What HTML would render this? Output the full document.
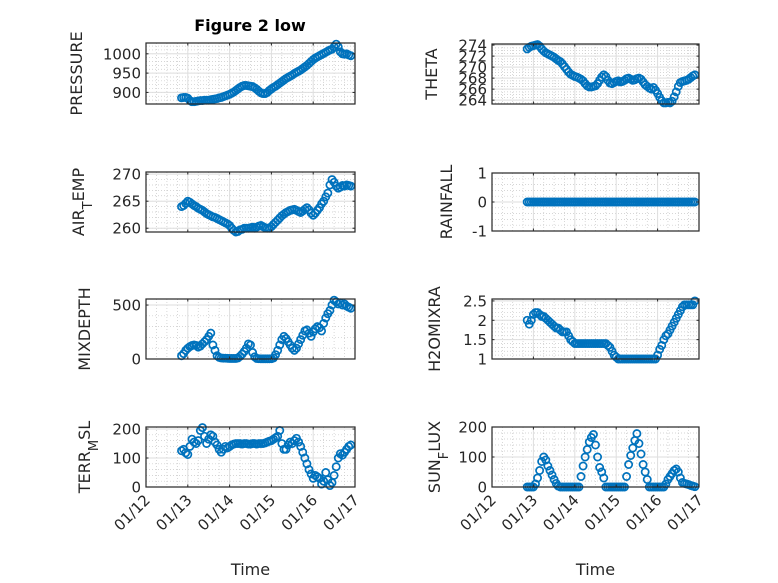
<!DOCTYPE html>
<html><head><meta charset="utf-8"><style>
html,body{margin:0;padding:0;background:#fff;}
svg{display:block;font-family:"DejaVu Sans","Liberation Sans",sans-serif;}
</style></head><body>
<svg id="fig" width="778" height="583" viewBox="0 0 778 583" xmlns="http://www.w3.org/2000/svg">
<rect width="778" height="583" fill="#fff"/>
<text x="250" y="31" text-anchor="middle" font-size="16" font-weight="bold" fill="#000">Figure 2 low</text>
</svg>
<script>
const times = [0.85,0.90,0.95,1.00,1.05,1.10,1.15,1.20,1.25,1.30,1.35,1.40,1.45,1.50,1.55,1.60,1.65,1.70,1.75,1.80,1.85,1.90,1.95,2.00,2.05,2.10,2.15,2.20,2.25,2.30,2.35,2.40,2.45,2.50,2.55,2.60,2.65,2.70,2.75,2.80,2.85,2.90,2.95,3.00,3.05,3.10,3.15,3.20,3.25,3.30,3.35,3.40,3.45,3.50,3.55,3.60,3.65,3.70,3.75,3.80,3.85,3.90,3.95,4.00,4.05,4.10,4.15,4.20,4.25,4.30,4.35,4.40,4.45,4.50,4.55,4.60,4.65,4.70,4.75,4.80,4.85,4.90];
const xTickLabels = ["01/12","01/13","01/14","01/15","01/16","01/17"];
const pressure = [886,887,887,885,879,876,876,877,878,879,879,880,880,880,881,882,883,884,886,887,889,891,893,895,898,901,905,909,913,916,918,918,917,916,915,912,908,903,899,897,897,900,905,909,913,916,920,924,928,932,936,939,942,945,949,952,955,958,962,966,970,975,980,985,989,992,995,998,1001,1004,1007,1010,1012,1018,1025,1018,1005,1000,999,1000,997,995];
const theta = [273.3,273.6,273.8,273.9,274,274.1,273.8,273.3,272.9,272.6,272.4,272.2,272,271.8,271.5,271.2,271,270.6,270.1,269.6,269.1,268.7,268.5,268.3,268.2,268,267.8,267.5,267,266.6,266.4,266.4,266.5,266.6,267,267.6,268.2,268.6,268.3,267.6,267.1,267,267.2,267.4,267.5,267.3,267.4,267.6,267.9,268,267.8,267.6,267.7,267.9,268,267.8,267.3,266.8,266.5,266.2,266,266.3,265.8,265.2,264.5,263.9,263.5,263.5,263.6,263.5,263.8,264.6,265.5,266.5,267.2,267.4,267.5,267.6,267.8,268.1,268.4,268.6];
const airTemp = [264,264.2,264.6,265,264.8,264.5,264.2,264,263.7,263.5,263.3,263,262.7,262.5,262.3,262.1,262,261.8,261.6,261.4,261.2,261,260.8,260.5,260,259.6,259.3,259.4,259.7,259.8,260,260,260,260.1,260.2,260,260.2,260.4,260.5,260.3,260.1,260,260,260.3,260.7,261.1,261.5,261.9,262.3,262.6,262.9,263.1,263.3,263.4,263.5,263.3,263.1,262.9,263.2,263.5,263.8,263.4,262.8,262.4,262.8,263.3,263.8,264.5,265,265.8,266.5,268,269,268.5,267.8,267.4,267.6,267.9,267.8,268,267.9,267.8];
const rainfall = [0,0,0,0,0,0,0,0,0,0,0,0,0,0,0,0,0,0,0,0,0,0,0,0,0,0,0,0,0,0,0,0,0,0,0,0,0,0,0,0,0,0,0,0,0,0,0,0,0,0,0,0,0,0,0,0,0,0,0,0,0,0,0,0,0,0,0,0,0,0,0,0,0,0,0,0,0,0,0,0,0,0];
const mixDepth = [30,50,80,100,115,125,130,125,110,120,140,160,180,210,240,130,80,30,15,10,8,8,6,5,5,5,5,10,25,45,70,100,140,130,60,20,5,3,2,2,2,2,2,3,10,40,80,130,180,210,190,160,130,100,80,100,140,180,220,260,270,240,210,250,280,300,290,260,330,380,420,450,500,545,530,510,520,500,510,490,480,470];
const h2oMix = [2.0,1.9,2.0,2.15,2.2,2.2,2.15,2.1,2.1,2.05,2.0,1.95,1.9,1.85,1.8,1.8,1.75,1.7,1.7,1.7,1.6,1.5,1.45,1.4,1.4,1.4,1.4,1.4,1.4,1.4,1.4,1.4,1.4,1.4,1.4,1.4,1.4,1.4,1.4,1.35,1.3,1.2,1.1,1.05,1,1,1,1,1,1,1,1,1,1,1,1,1,1,1,1,1,1,1,1.1,1.25,1.35,1.5,1.6,1.65,1.75,1.85,1.95,2.05,2.15,2.25,2.35,2.4,2.4,2.4,2.4,2.4,2.5];
const terrMsl = [125,130,118,112,140,165,155,150,160,195,205,175,150,165,180,175,155,145,130,120,130,140,135,140,145,148,150,150,150,148,150,150,148,148,150,150,148,150,150,150,152,155,158,160,165,170,175,195,150,130,130,145,155,150,160,168,155,140,120,100,80,60,45,30,40,35,30,10,20,50,25,5,15,40,70,100,115,110,120,130,140,145];
const sunFlux = [0,0,0,0,10,30,55,85,100,90,70,55,40,25,12,3,0,0,0,0,0,0,0,0,0,0,35,70,100,125,150,165,175,140,100,65,50,30,0,0,0,0,0,0,0,0,0,0,35,75,105,130,155,178,145,110,75,50,25,0,0,0,0,0,0,0,0,10,25,35,45,55,60,50,30,15,12,10,8,5,3,1];

const pressureTicks = [900,950,1000];
const thetaTicks = [264,266,268,270,272,274];
const airTicks = [260,265,270];
const rainTicks = [-1,0,1];
const mixTicks = [0,500];
const h2oTicks = [1,1.5,2,2.5];
const terrTicks = [0,100,200];
const sunTicks = [0,100,200];

const NS = "http://www.w3.org/2000/svg";
const svg = document.getElementById('fig');
function mk(tag, attrs, parent){const e=document.createElementNS(NS,tag);for(const k in attrs)e.setAttribute(k,attrs[k]);(parent||svg).appendChild(e);return e;}

function panel(cfg){
  const g = mk('g',{});
  
  
  const L=cfg.x, T=cfg.y, W=cfg.w, H=cfg.h;
  const sx = t => L + t/5*W;
  const sy = v => T + H - (v-cfg.ymin)/(cfg.ymax-cfg.ymin)*H;
  for(let d=0; d<=5.0001; d+=0.25){ if(Math.abs(d-Math.round(d))<1e-6) continue;
    mk('line',{x1:sx(d),x2:sx(d),y1:T,y2:T+H,stroke:'#c8c8c8','stroke-width':0.7,'stroke-dasharray':'1,2'},g);}
  for(let v=Math.ceil(cfg.ymin/cfg.minor)*cfg.minor; v<=cfg.ymax+1e-9; v+=cfg.minor){
    mk('line',{x1:L,x2:L+W,y1:sy(v),y2:sy(v),stroke:'#c8c8c8','stroke-width':0.7,'stroke-dasharray':'1,2'},g);}
  for(let d=0; d<=5; d++) mk('line',{x1:sx(d),x2:sx(d),y1:T,y2:T+H,stroke:'#dedede','stroke-width':1},g);
  cfg.ticks.forEach(v=>mk('line',{x1:L,x2:L+W,y1:sy(v),y2:sy(v),stroke:'#dedede','stroke-width':1},g));
  const n=Math.min(times.length,cfg.data.length);
  for(let i=0;i<n;i++){
    const c=mk('circle',{cx:sx(times[i]).toFixed(2),cy:sy(cfg.data[i]).toFixed(2),r:3.6,fill:'none',stroke:'#0072BD','stroke-width':1.7},g);
    
    
  }
  mk('rect',{x:L,y:T,width:W,height:H,fill:'none',stroke:'#262626','stroke-width':1.2},g);
  for(let d=0; d<=5; d++){
    mk('line',{x1:sx(d),x2:sx(d),y1:T+H,y2:T+H-2.5,stroke:'#262626'},g);
    mk('line',{x1:sx(d),x2:sx(d),y1:T,y2:T+2.5,stroke:'#262626'},g);
    if(cfg.bottom){
      const tx=sx(d)+5, ty=T+H+14;
      const t=mk('text',{x:tx,y:ty,'text-anchor':'end','font-size':15,fill:'#262626',transform:`rotate(-45 ${tx} ${ty})`},g);
      t.textContent=xTickLabels[d];
      
      
    }
  }
  cfg.ticks.forEach(v=>{
    mk('line',{x1:L,x2:L+2.5,y1:sy(v),y2:sy(v),stroke:'#262626'},g);
    mk('line',{x1:L+W,x2:L+W-2.5,y1:sy(v),y2:sy(v),stroke:'#262626'},g);
    const t=mk('text',{x:L-5,y:sy(v)+5.5,'text-anchor':'end','font-size':cfg.tfs||15,fill:'#262626'},g);
    t.textContent=String(v);
    
    
  });
  const lx=cfg.lx, ly=T+H/2;
  const yl=mk('text',{x:lx,y:ly,'text-anchor':'middle','font-size':16,fill:'#262626',transform:`rotate(-90 ${lx} ${ly})`},g);
  
  
  if(cfg.sub){
    const a=mk('tspan',{},yl); a.textContent=cfg.sub[0];
    const b=mk('tspan',{'baseline-shift':'sub','font-size':13},yl); b.textContent=cfg.sub[1];
    const c=mk('tspan',{'baseline-shift':'0'},yl); c.textContent=cfg.sub[2];
  } else yl.textContent=cfg.label;
  if(cfg.bottom){
    const tt=mk('text',{x:L+W/2,y:575,'text-anchor':'middle','font-size':16,fill:'#262626'},g);
    tt.textContent='Time';
    
    
  }
}

panel({name:'pressure',x:146,y:43,w:209,h:61,ymin:870,ymax:1028,ticks:pressureTicks,minor:10,data:pressure,lx:82,label:'PRESSURE'});
panel({name:'theta',x:492,y:44,w:207,h:60,ymin:263.3,ymax:274.2,ticks:thetaTicks,minor:0.5,data:theta,lx:437,label:'THETA'});
panel({name:'air-temp',x:146,y:172,w:209,h:60,ymin:259.3,ymax:270.4,ticks:airTicks,minor:1,data:airTemp,lx:84,sub:['AIR','T','EMP']});
panel({name:'rainfall',x:492,y:173,w:207,h:58,ymin:-1,ymax:1,ticks:rainTicks,minor:0.2,data:rainfall,lx:452,label:'RAINFALL'});
panel({name:'mixdepth',x:146,y:299,w:209,h:60,ymin:0,ymax:556,ticks:mixTicks,minor:100,data:mixDepth,lx:90,label:'MIXDEPTH'});
panel({name:'h2omixra',x:492,y:299,w:207,h:60,ymin:1,ymax:2.55,ticks:h2oTicks,minor:0.1,data:h2oMix,lx:440,label:'H2OMIXRA'});
panel({name:'terr-msl',x:146,y:427,w:209,h:60,ymin:0,ymax:207,ticks:terrTicks,minor:20,data:terrMsl,lx:90,sub:['TERR','M','SL'],bottom:true});
panel({name:'sun-flux',x:492,y:427,w:207,h:60,ymin:0,ymax:200,ticks:sunTicks,minor:20,data:sunFlux,lx:440,sub:['SUN','F','LUX'],bottom:true});
</script>
</body></html>
